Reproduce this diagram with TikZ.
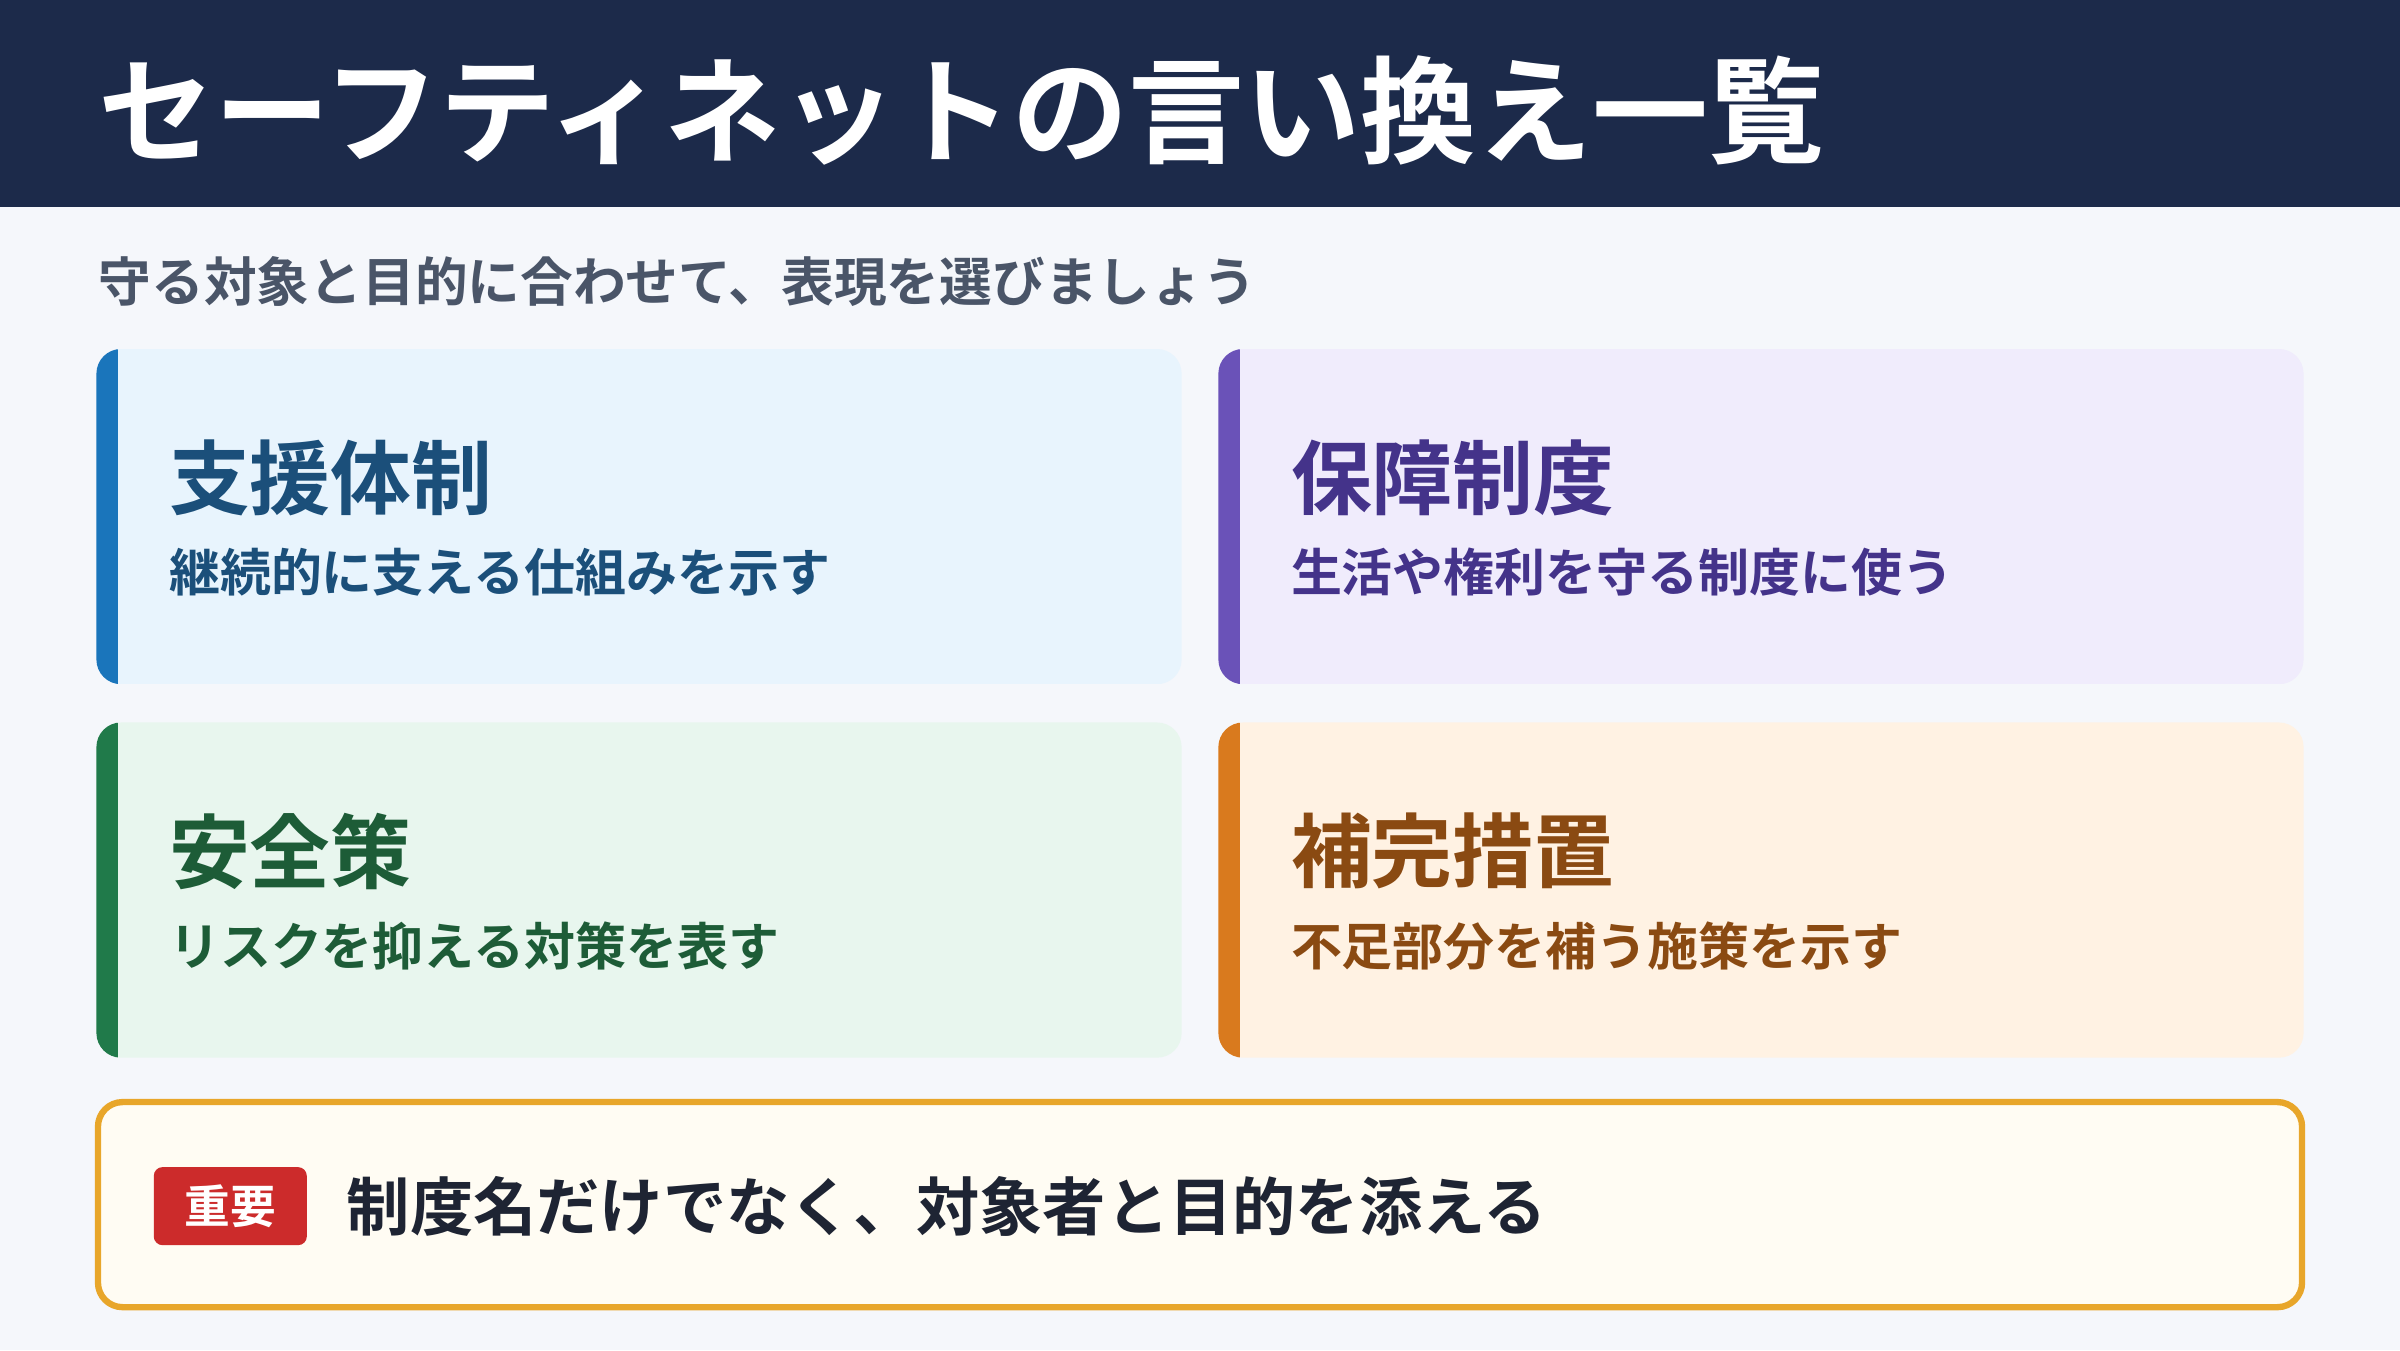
\documentclass[tikz,border=0pt]{standalone}
\usepackage{fontspec}
\setmainfont{Noto Sans CJK JP}[BoldFont={Noto Sans CJK JP Bold}]
\usetikzlibrary{positioning,calc}
\definecolor{headnavy}{HTML}{1C2A4A}
\definecolor{pagebg}{HTML}{F5F7FB}
\definecolor{subgray}{HTML}{4A5568}
\definecolor{bluefill}{HTML}{E8F4FD}
\definecolor{bluebar}{HTML}{1A75BB}
\definecolor{bluetext}{HTML}{1B4F7A}
\definecolor{violetfill}{HTML}{F0ECFC}
\definecolor{violetbar}{HTML}{6A52B8}
\definecolor{violettext}{HTML}{44338A}
\definecolor{greenfill}{HTML}{E8F6EE}
\definecolor{greenbar}{HTML}{207A4A}
\definecolor{greentext}{HTML}{1D5C37}
\definecolor{orangefill}{HTML}{FFF2E3}
\definecolor{orangebar}{HTML}{D97A1E}
\definecolor{orangetext}{HTML}{8A4A12}
\definecolor{notefill}{HTML}{FFFCF3}
\definecolor{noteline}{HTML}{E8A62A}
\definecolor{badgered}{HTML}{CC2B2B}
\definecolor{notetext}{HTML}{1E2433}

% card: name, x, y, fill, bar, text colour, heading, caption
\newcommand{\drawcard}[8]{
    \begin{scope}
        \clip[rounded corners=7pt] (#2,#3) rectangle ++(709,219);
        \fill[#4] (#2,#3) rectangle ++(709,219);
        \fill[#5] (#2,#3) rectangle ++(14,219);
    \end{scope}
    \node[anchor=north west, minimum width=709*0.015306cm, minimum height=219*0.015306cm] (#1) at (#2,#3) {};
    \node[heading, text=#6, anchor=west] (#1h) at ($(#2,#3)+(47,84)$) {#7};
    \node[caption, text=#6, anchor=west] (#1c) at ($(#2,#3)+(47,146)$) {#8};
}

\begin{document}
\begin{tikzpicture}[
        x=0.015306cm, y=-0.015306cm,
        heading/.style={inner sep=0pt, font=\fontsize{23}{26}\selectfont\bfseries},
        caption/.style={inner sep=0pt, font=\fontsize{14.5}{17}\selectfont\bfseries}
    ]
    \fill[pagebg] (0,0) rectangle (1568,882);
    \useasboundingbox (0,0) rectangle (1568,882);
    \fill[headnavy] (0,0) rectangle (1568,135);
    \node[anchor=west, inner sep=0pt, text=white, font=\fontsize{33}{36}\selectfont\bfseries] (title) at (64,72) {セーフティネットの言い換え一覧};
    \node[anchor=west, inner sep=0pt, text=subgray, font=\fontsize{15}{18}\selectfont\bfseries] (subtitle) at (64,184) {守る対象と目的に合わせて、表現を選びましょう};

    \drawcard{support}{63}{228}{bluefill}{bluebar}{bluetext}{支援体制}{継続的に支える仕組みを示す}
    \drawcard{guarantee}{796}{228}{violetfill}{violetbar}{violettext}{保障制度}{生活や権利を守る制度に使う}
    \drawcard{safety}{63}{472}{greenfill}{greenbar}{greentext}{安全策}{リスクを抑える対策を表す}
    \drawcard{supplement}{796}{472}{orangefill}{orangebar}{orangetext}{補完措置}{不足部分を補う施策を示す}

    % note box
    \draw[noteline, fill=notefill, line width=1.8pt, rounded corners=7pt] (64,720) rectangle (1504,854);
    \node[anchor=west, fill=badgered, text=white, rounded corners=2.5pt, minimum width=100*0.015306cm, minimum height=51*0.015306cm, inner sep=0pt, font=\fontsize{13}{15}\selectfont\bfseries] (badge) at (100,788) {重要};
    \node[right=11pt of badge, inner sep=0pt, text=notetext, font=\fontsize{18}{21}\selectfont\bfseries] (note) {制度名だけでなく、対象者と目的を添える};
\end{tikzpicture}
\end{document}
